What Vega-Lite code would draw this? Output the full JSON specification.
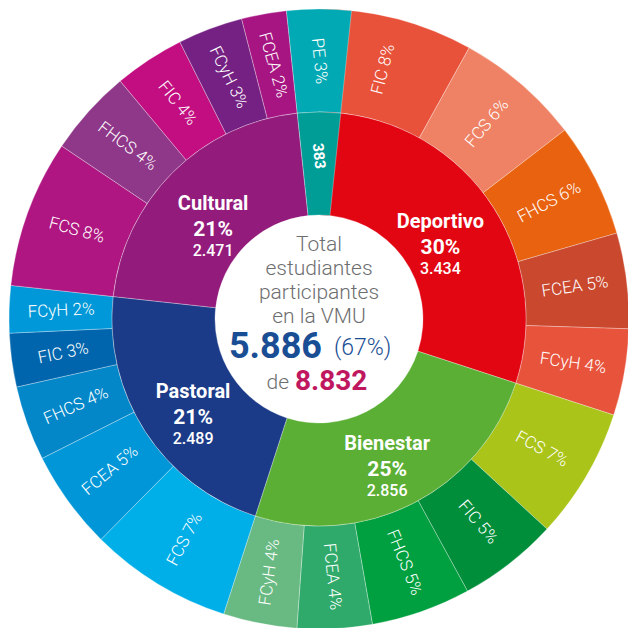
{
  "$schema": "https://vega.github.io/schema/vega-lite/v6.json",
  "width": 628,
  "height": 628,
  "autosize": {"type": "fit", "contains": "padding"},
  "padding": {"left": 10, "top": 10, "right": 0, "bottom": 0},
  "background": "white",
  "config": {
    "view": {"stroke": null},
    "locale": {"number": {"decimal": ",", "thousands": ".", "grouping": [3], "currency": ["$", ""]}}
  },
  "resolve": {"scale": {"color": "independent"}},
  "datasets": {
    "grupos": [
      {"grupo": "Deportivo", "n": 3434, "pct": 30},
      {"grupo": "Bienestar", "n": 2856, "pct": 25},
      {"grupo": "Pastoral", "n": 2489, "pct": 21},
      {"grupo": "Cultural", "n": 2471, "pct": 21},
      {"grupo": "PE", "n": 383, "pct": 3}
    ],
    "facs": [
      {"grupo": "Deportivo", "fac": "FIC", "n": 921, "pct": 8},
      {"grupo": "Deportivo", "fac": "FCS", "n": 746, "pct": 6},
      {"grupo": "Deportivo", "fac": "FHCS", "n": 682, "pct": 6},
      {"grupo": "Deportivo", "fac": "FCEA", "n": 569, "pct": 5},
      {"grupo": "Deportivo", "fac": "FCyH", "n": 516, "pct": 4},
      {"grupo": "Bienestar", "fac": "FCS", "n": 782, "pct": 7},
      {"grupo": "Bienestar", "fac": "FIC", "n": 595, "pct": 5},
      {"grupo": "Bienestar", "fac": "FHCS", "n": 594, "pct": 5},
      {"grupo": "Bienestar", "fac": "FCEA", "n": 446, "pct": 4},
      {"grupo": "Bienestar", "fac": "FCyH", "n": 439, "pct": 4},
      {"grupo": "Pastoral", "fac": "FCS", "n": 851, "pct": 7},
      {"grupo": "Pastoral", "fac": "FCEA", "n": 591, "pct": 5},
      {"grupo": "Pastoral", "fac": "FHCS", "n": 446, "pct": 4},
      {"grupo": "Pastoral", "fac": "FIC", "n": 320, "pct": 3},
      {"grupo": "Pastoral", "fac": "FCyH", "n": 281, "pct": 2},
      {"grupo": "Cultural", "fac": "FCS", "n": 880, "pct": 8},
      {"grupo": "Cultural", "fac": "FHCS", "n": 515, "pct": 4},
      {"grupo": "Cultural", "fac": "FIC", "n": 420, "pct": 4},
      {"grupo": "Cultural", "fac": "FCyH", "n": 388, "pct": 3},
      {"grupo": "Cultural", "fac": "FCEA", "n": 268, "pct": 2},
      {"grupo": "PE", "fac": "PE", "n": 383, "pct": 3}
    ],
    "centro": [{"total": 5886, "pct": 67, "base": 8832}]
  },
  "layer": [
    {
      "data": {"name": "facs"},
      "transform": [
        {"window": [{"op": "sum", "field": "n", "as": "cum"}], "frame": [null, 0]},
        {"calculate": "datum.cum - datum.n", "as": "s"},
        {"calculate": "datum.grupo + ' ' + datum.fac", "as": "k"}
      ],
      "mark": {"type": "arc", "innerRadius": 207, "outerRadius": 310, "stroke": "white", "strokeWidth": 0.6, "strokeOpacity": 0.5},
      "encoding": {
        "theta": {"field": "s", "type": "quantitative", "scale": {"zero": true}},
        "theta2": {"field": "cum"},
        "color": {
          "field": "k", "type": "nominal", "legend": null,
          "scale": {
            "domain": ["Deportivo FIC", "Deportivo FCS", "Deportivo FHCS", "Deportivo FCEA", "Deportivo FCyH",
                       "Bienestar FCS", "Bienestar FIC", "Bienestar FHCS", "Bienestar FCEA", "Bienestar FCyH",
                       "Pastoral FCS", "Pastoral FCEA", "Pastoral FHCS", "Pastoral FIC", "Pastoral FCyH",
                       "Cultural FCS", "Cultural FHCS", "Cultural FIC", "Cultural FCyH", "Cultural FCEA", "PE PE"],
            "range": ["#E8523A", "#EF8264", "#E9620F", "#C9482E", "#E8533C",
                      "#AAC419", "#008E3B", "#00A040", "#2FAA6B", "#69BA82",
                      "#00AEE8", "#0096D7", "#0387C9", "#0165AD", "#0098D8",
                      "#AF1681", "#8F3789", "#C20E80", "#742183", "#A71582", "#00A9B3"]
          }
        }
      }
    },
    {
      "data": {"name": "grupos"},
      "transform": [
        {"window": [{"op": "sum", "field": "n", "as": "cum"}], "frame": [null, 0]},
        {"calculate": "datum.cum - datum.n", "as": "s"}
      ],
      "mark": {"type": "arc", "innerRadius": 104, "outerRadius": 207, "stroke": "white", "strokeWidth": 0.6, "strokeOpacity": 0.5},
      "encoding": {
        "theta": {"field": "s", "type": "quantitative"},
        "theta2": {"field": "cum"},
        "color": {
          "field": "grupo", "type": "nominal", "legend": null,
          "scale": {
            "domain": ["Deportivo", "Bienestar", "Pastoral", "Cultural", "PE"],
            "range": ["#E20613", "#5BAF34", "#1B3B88", "#931B7C", "#009D96"]
          }
        }
      }
    },
    {
      "data": {"name": "facs"},
      "transform": [
        {"window": [{"op": "sum", "field": "n", "as": "cum"}], "frame": [null, 0]},
        {"joinaggregate": [{"op": "sum", "field": "n", "as": "tot"}]},
        {"calculate": "datum.cum - datum.n / 2", "as": "m"},
        {"calculate": "datum.m / datum.tot * 360", "as": "deg"},
        {"calculate": "datum.deg < 180 ? datum.deg - 90 : datum.deg - 270", "as": "ang"},
        {"calculate": "datum.fac + ' ' + datum.pct + '%'", "as": "lbl"}
      ],
      "mark": {"type": "text", "radius": 258, "fontSize": 17, "font": "Roboto", "fontWeight": 300, "color": "white", "align": "center", "baseline": "middle"},
      "encoding": {
        "theta": {"field": "m", "type": "quantitative"},
        "angle": {"field": "ang", "type": "quantitative", "scale": null},
        "text": {"field": "lbl"}
      }
    },
    {
      "data": {"name": "grupos"},
      "transform": [
        {"window": [{"op": "sum", "field": "n", "as": "cum"}], "frame": [null, 0]},
        {"calculate": "datum.cum - datum.n / 2", "as": "m"},
        {"filter": "datum.grupo != 'PE'"}
      ],
      "mark": {"type": "text", "radius": 150, "dy": -9, "fontSize": 20, "font": "Roboto", "fontWeight": "bold", "color": "white", "align": "center", "baseline": "middle"},
      "encoding": {
        "theta": {"field": "m", "type": "quantitative"},
        "text": {"field": "grupo"}
      }
    },
    {
      "data": {"name": "grupos"},
      "transform": [
        {"window": [{"op": "sum", "field": "n", "as": "cum"}], "frame": [null, 0]},
        {"calculate": "datum.cum - datum.n / 2", "as": "m"},
        {"filter": "datum.grupo != 'PE'"},
        {"calculate": "datum.pct + '%'", "as": "p"}
      ],
      "mark": {"type": "text", "radius": 150, "dy": 17, "fontSize": 21, "font": "Roboto", "fontWeight": "bold", "color": "white", "align": "center", "baseline": "middle"},
      "encoding": {
        "theta": {"field": "m", "type": "quantitative"},
        "text": {"field": "p"}
      }
    },
    {
      "data": {"name": "grupos"},
      "transform": [
        {"window": [{"op": "sum", "field": "n", "as": "cum"}], "frame": [null, 0]},
        {"calculate": "datum.cum - datum.n / 2", "as": "m"},
        {"filter": "datum.grupo != 'PE'"}
      ],
      "mark": {"type": "text", "radius": 150, "dy": 38, "fontSize": 16, "font": "Roboto", "fontWeight": 500, "color": "white", "align": "center", "baseline": "middle"},
      "encoding": {
        "theta": {"field": "m", "type": "quantitative"},
        "text": {"field": "n", "type": "quantitative", "format": ",d"}
      }
    },
    {
      "data": {"name": "grupos"},
      "transform": [
        {"window": [{"op": "sum", "field": "n", "as": "cum"}], "frame": [null, 0]},
        {"joinaggregate": [{"op": "sum", "field": "n", "as": "tot"}]},
        {"calculate": "datum.cum - datum.n / 2", "as": "m"},
        {"calculate": "datum.m / datum.tot * 360 - 270", "as": "ang"},
        {"filter": "datum.grupo == 'PE'"}
      ],
      "mark": {"type": "text", "radius": 163, "fontSize": 15, "font": "Roboto", "fontWeight": "bold", "color": "white", "align": "center", "baseline": "middle"},
      "encoding": {
        "theta": {"field": "m", "type": "quantitative"},
        "angle": {"field": "ang", "type": "quantitative", "scale": null},
        "text": {"field": "n", "type": "quantitative", "format": "d"}
      }
    },
    {
      "data": {"name": "centro"},
      "mark": {"type": "text", "text": ["Total", "estudiantes", "participantes", "en la VMU"], "lineHeight": 24, "dy": -74, "fontSize": 21, "font": "Roboto", "fontWeight": 300, "color": "#6D6E70", "align": "center", "baseline": "middle"},
      "encoding": {}
    },
    {
      "data": {"name": "centro"},
      "mark": {"type": "text", "dx": 3, "dy": 28, "fontSize": 36, "font": "Roboto", "fontWeight": "bold", "color": "#1A4E94", "align": "right", "baseline": "middle"},
      "encoding": {"text": {"field": "total", "type": "quantitative", "format": ",d"}}
    },
    {
      "data": {"name": "centro"},
      "transform": [{"calculate": "'(' + datum.pct + '%)'", "as": "p"}],
      "mark": {"type": "text", "dx": 15, "dy": 29, "fontSize": 23, "font": "Roboto", "fontWeight": 300, "color": "#1A4E94", "align": "left", "baseline": "middle"},
      "encoding": {"text": {"field": "p"}}
    },
    {
      "data": {"name": "centro"},
      "mark": {"type": "text", "text": "de", "dx": -30, "dy": 64, "fontSize": 21, "font": "Roboto", "fontWeight": 300, "color": "#6D6E70", "align": "right", "baseline": "middle"},
      "encoding": {}
    },
    {
      "data": {"name": "centro"},
      "mark": {"type": "text", "dx": -24, "dy": 63, "fontSize": 28, "font": "Roboto", "fontWeight": "bold", "color": "#C0185F", "align": "left", "baseline": "middle"},
      "encoding": {"text": {"field": "base", "type": "quantitative", "format": ",d"}}
    }
  ]
}
